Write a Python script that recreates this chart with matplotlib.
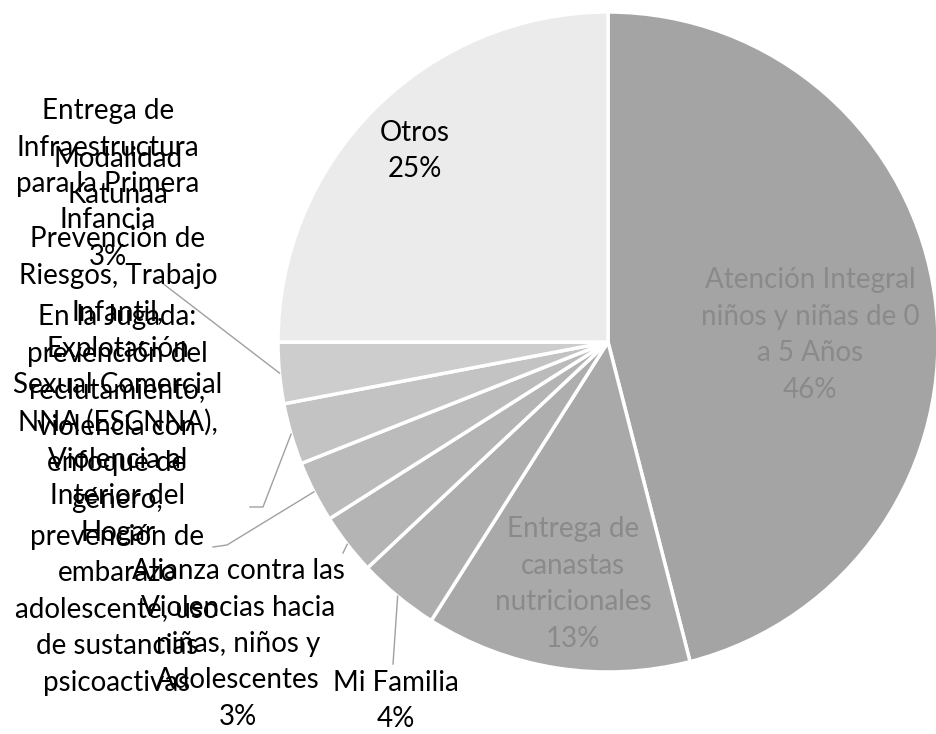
import matplotlib
matplotlib.use('Agg')
import matplotlib.pyplot as plt
import numpy as np

# Programas (sentido horario desde las 12)
categories = [
    'Atención Integral\nniños y niñas de 0\na 5 Años',
    'Entrega de\ncanastas\nnutricionales',
    'Mi Familia',
    'Alianza contra las\nViolencias hacia\nniñas, niños y\nAdolescentes',
    'En la Jugada:\nprevención del\nreclutamiento,\nviolencia con\nenfoque de\ngénero,\nprevención de\nembarazo\nadolescente, uso\nde sustancias\npsicoactivas',
    'Prevención de\nRiesgos, Trabajo\nInfantil,\nExplotación\nSexual Comercial\nNNA (ESCNNA),\nViolencia al\nInterior del\nHogar',
    'Entrega de\nInfraestructura\npara la Primera\nInfancia',
    'Modalidad\nKatunaa',
    'Otros',
]
values = [46, 13, 4, 3, 3, 3, 3, 0, 25]
show_pct = [True, True, True, True, False, False, True, False, True]

colors = ['#a4a4a4', '#a9a9a9', '#aeaeae', '#b4b4b4', '#bbbbbb',
          '#c3c3c3', '#cdcdcd', '#d8d8d8', '#ebebeb']
text_colors = ['#8a8a8a', '#8a8a8a', 'black', 'black', 'black',
               'black', 'black', 'black', 'black']

# layout in pixels (y from top)
W, H = 936, 734
CENTER = (608, 342)
RADIUS = 330
label_pos = [(810, 335), (573, 584), (396, 701), (238, 644), (117, 500),
             (118, 386), (108, 184), (118, 177), (415, 151)]
# leader line bends for outside labels (None = inside label)
leaders = [None, None, [(393, 664)], [(343, 553)], [(227, 545), (213, 547)],
           [(263, 507), (250, 507)], [(157, 279)], None, None]


def px(x, y):
    return x, H - y


fig = plt.figure(figsize=(W / 100, H / 100), dpi=100)
ax = fig.add_axes([0, 0, 1, 1])

wedges, _ = ax.pie(values, colors=colors, startangle=90, counterclock=False,
                   center=px(*CENTER), radius=RADIUS,
                   wedgeprops=dict(edgecolor='white', linewidth=2.5))

cx, cy = px(*CENTER)
for w, lead in zip(wedges, leaders):
    if lead is None:
        continue
    mid = np.deg2rad((w.theta1 + w.theta2) / 2)
    xs = [cx + RADIUS * np.cos(mid)] + [px(*p)[0] for p in lead]
    ys = [cy + RADIUS * np.sin(mid)] + [px(*p)[1] for p in lead]
    ax.plot(xs, ys, color='#a0a0a0', linewidth=1)

for name, v, show, (lx, ly), tc in zip(categories, values, show_pct,
                                       label_pos, text_colors):
    txt = name + (f'\n{v}%' if show else '')
    x, y = px(lx, ly)
    ax.text(x, y, txt, ha='center', va='center', multialignment='center',
            fontsize=20, family='Lato', color=tc, linespacing=1.5)

ax.set_xlim(0, W)
ax.set_ylim(0, H)
ax.set_aspect('equal')
ax.axis('off')

fig.savefig('out.png', dpi=100, facecolor='white')
